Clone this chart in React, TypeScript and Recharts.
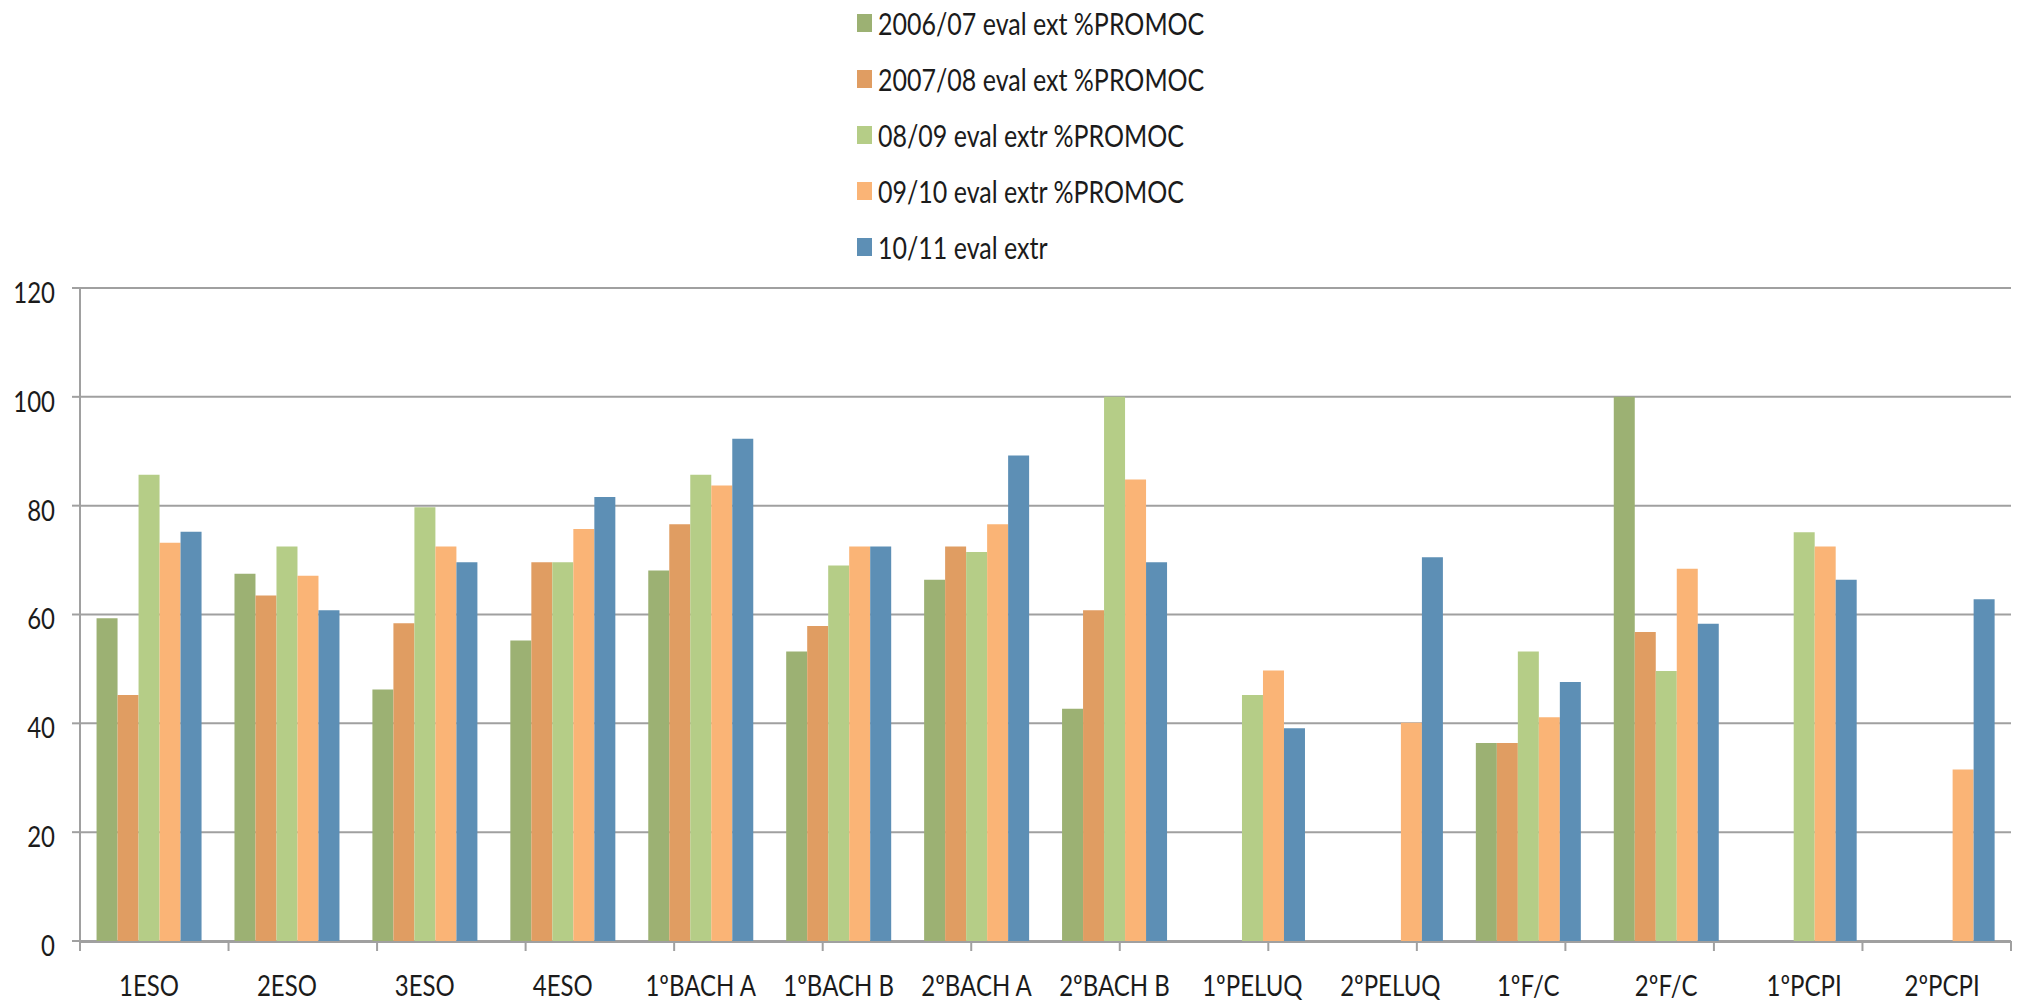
import { Bar, BarChart, CartesianGrid, Legend, XAxis, YAxis } from "recharts";

const categories = [
  "1ESO",
  "2ESO",
  "3ESO",
  "4ESO",
  "1ºBACH A",
  "1ºBACH B",
  "2ºBACH A",
  "2ºBACH B",
  "1ºPELUQ",
  "2ºPELUQ",
  "1ºF/C",
  "2ºF/C",
  "1ºPCPI",
  "2ºPCPI",
];

const promo0607 = [59.3, 67.5, 46.2, 55.2, 68.1, 53.2, 66.4, 42.7, null, null, 36.4, 100, null, null];
const promo0708 = [45.2, 63.5, 58.4, 69.6, 76.6, 57.9, 72.5, 60.8, null, null, 36.4, 56.8, null, null];
const promo0809 = [85.7, 72.5, 79.7, 69.6, 85.7, 69.0, 71.5, 100, 45.2, null, 53.2, 49.6, 75.1, null];
const promo0910 = [73.2, 67.1, 72.5, 75.7, 83.7, 72.5, 76.6, 84.8, 49.7, 40.1, 41.1, 68.4, 72.5, 31.5];
const extr1011 = [75.2, 60.8, 69.6, 81.6, 92.3, 72.5, 89.2, 69.6, 39.1, 70.5, 47.6, 58.3, 66.4, 62.8];

const seriesNames = [
  "2006/07 eval ext %PROMOC",
  "2007/08 eval ext %PROMOC",
  "08/09 eval extr %PROMOC",
  "09/10 eval extr %PROMOC",
  "10/11 eval extr",
];
const seriesColors = ["#9cb173", "#e09d62", "#b5cd87", "#fab476", "#5d8fb5"];
const seriesValues = [promo0607, promo0708, promo0809, promo0910, extr1011];

const yTicks = [0, 20, 40, 60, 80, 100, 120];
// category boundaries, used for the tick marks between groups
const boundaryTicks = [...categories.map((_, i) => i), categories.length];

const data = categories.map((name, i) => {
  const row: Record<string, string | number | null> = { name };
  seriesValues.forEach((vals, s) => {
    row[`s${s}`] = vals[i];
  });
  return row;
});

const GREY = "#a0a0a0";
const INK = "#1b1b1b";
const FONT = "Lato, 'Open Sans', sans-serif";
const STRETCH = 1.2;

function YTick({ x, y, payload }: any) {
  return (
    <text
      transform={`translate(${x},${y + 4}) scale(1,${STRETCH})`}
      textAnchor="end"
      dominantBaseline="central"
      fontSize={24}
      fontFamily={FONT}
      fill={INK}
    >
      {payload.value}
    </text>
  );
}

function XTick({ x, y, payload }: any) {
  return (
    <text
      transform={`translate(${x},${y + 43}) scale(1,${STRETCH})`}
      textAnchor="middle"
      dominantBaseline="central"
      fontSize={24}
      fontFamily={FONT}
      fill={INK}
    >
      {payload.value}
    </text>
  );
}

function LegendList() {
  return (
    <div style={{ fontFamily: FONT }}>
      {seriesNames.map((name, s) => (
        <div key={name} style={{ display: "flex", alignItems: "center", height: 56 }}>
          <span style={{ width: 15, height: 18, background: seriesColors[s], marginRight: 6 }} />
          <span
            style={{
              display: "inline-block",
              fontSize: 25,
              color: INK,
              whiteSpace: "nowrap",
              transform: `scaleY(${STRETCH})`,
            }}
          >
            {name}
          </span>
        </div>
      ))}
    </div>
  );
}

export default function App() {
  return (
    <div style={{ width: 2018, height: 1005, fontFamily: FONT, overflow: "hidden" }}>
      <style>{"body { margin: 0; }"}</style>
      <BarChart
        width={2018}
        height={1005}
        data={data}
        margin={{ top: 288, right: 7, bottom: 62, left: 20 }}
        barCategoryGap="12%"
        barGap={0}
      >
        <CartesianGrid xAxisId="cat" vertical={false} stroke={GREY} strokeWidth={2} />
        <XAxis
          xAxisId="cat"
          dataKey="name"
          height={1}
          axisLine={{ stroke: GREY, strokeWidth: 2 }}
          tickLine={false}
          tickSize={0}
          tickMargin={0}
          interval={0}
          tick={<XTick />}
        />
        <XAxis
          xAxisId="bounds"
          type="number"
          domain={[0, categories.length]}
          allowDataOverflow
          ticks={boundaryTicks}
          interval={0}
          height={1}
          axisLine={false}
          tickLine={{ stroke: GREY, strokeWidth: 2 }}
          tickSize={10}
          tick={() => <g />}
        />
        <YAxis
          width={60}
          domain={[0, 120]}
          ticks={yTicks}
          interval={0}
          axisLine={{ stroke: GREY, strokeWidth: 2 }}
          tickLine={{ stroke: GREY, strokeWidth: 2 }}
          tickSize={8}
          tickMargin={17}
          tick={<YTick />}
        />
        <Legend
          layout="vertical"
          align="center"
          verticalAlign="middle"
          wrapperStyle={{ top: -5, left: 857, width: 420 }}
          content={<LegendList />}
        />
        {seriesNames.map((name, s) => (
          <Bar
            key={name}
            xAxisId="cat"
            dataKey={`s${s}`}
            name={name}
            fill={seriesColors[s]}
            isAnimationActive={false}
          />
        ))}
      </BarChart>
    </div>
  );
}
